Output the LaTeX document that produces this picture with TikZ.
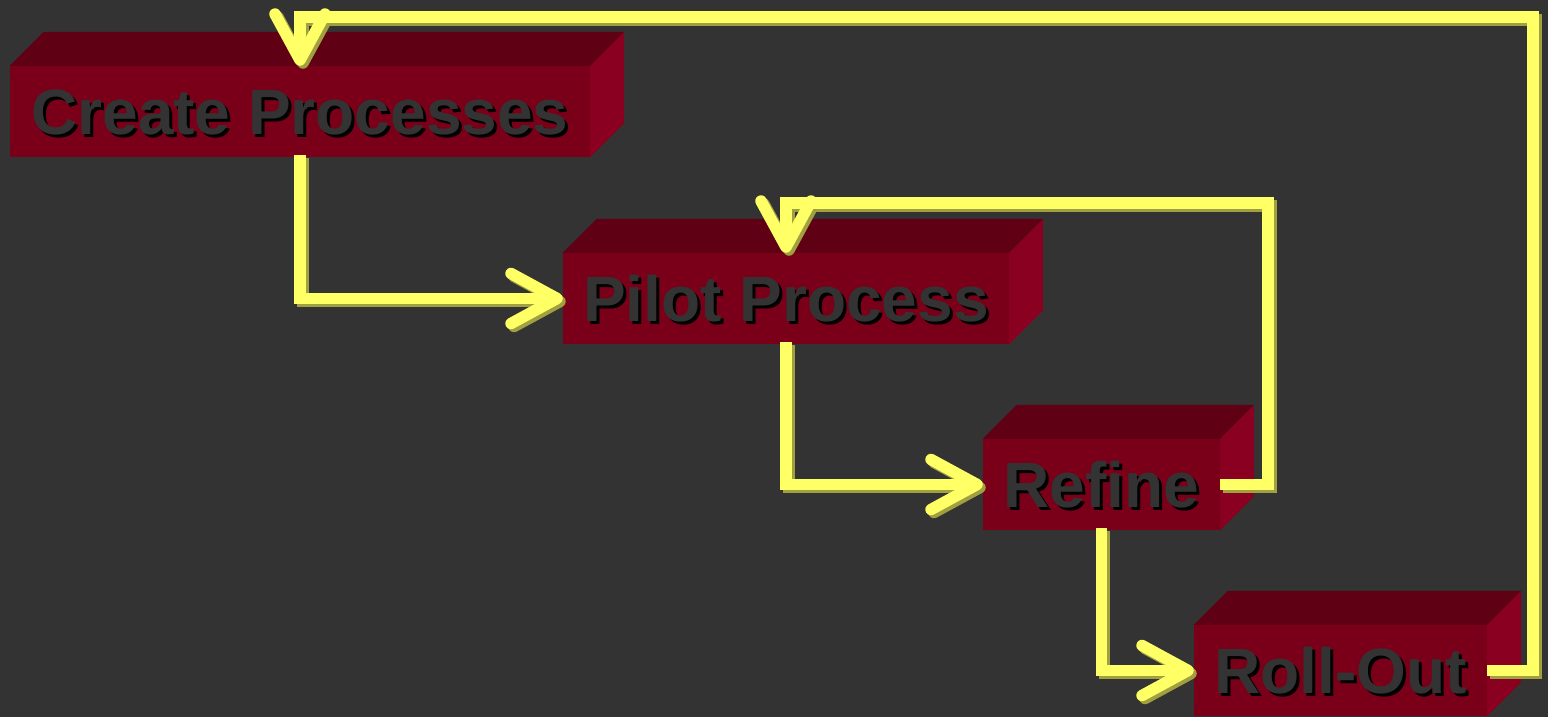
\documentclass[tikz,border=0pt]{standalone}
\usepackage{fontspec}
\setmainfont{Liberation Sans}
\usetikzlibrary{arrows.meta}

\definecolor{bg}{HTML}{333333}
\definecolor{frontred}{HTML}{7A0019}
\definecolor{topred}{HTML}{600014}
\definecolor{sidered}{HTML}{8A0020}
\definecolor{ylw}{HTML}{FFFF66}
\definecolor{ylwshade}{HTML}{A0A040}

% label with a dropped black shadow behind it
\newcommand\castlabel[1]{\rlap{\kern3pt\raisebox{-3pt}{\color{black}#1}}#1}

% top and side faces of a block, drawn behind its front face
\newcommand\blockfaces[1]{%
  \fill[topred] (#1.north west) -- ++(34,-34) -- ([shift={(34,-34)}]#1.north east) -- (#1.north east) -- cycle;
  \fill[sidered] (#1.north east) -- ++(34,-34) -- ([shift={(34,-34)}]#1.south east) -- (#1.south east) -- cycle;
}

\tikzset{
  stepbox/.style={fill=frontred, inner sep=0pt, minimum height=91pt, text=bg,
    font=\bfseries\fontsize{64}{64}\selectfont, text height=46pt, text depth=0pt},
  flow/.style={line width=11.5pt, -{Straight Barb[round,length=46pt,width=50pt]}},
  flowshade/.style={flow, draw=ylwshade, transform canvas={shift={(3,3)}}},
  flowmain/.style={flow, draw=ylw},
}

\begin{document}
\begin{tikzpicture}[x=1pt,y=-1pt]
  \fill[bg] (0,0) rectangle (1548,717);
  \useasboundingbox (0,0) rectangle (1548,717);

  \node[stepbox, minimum width=580pt] (cp) at (300,111.5) {\castlabel{Create Processes}};
  \node[stepbox, minimum width=446pt] (pp) at (786,298.5) {\castlabel{Pilot Process}};
  \node[stepbox, minimum width=237pt] (rf) at (1101.5,484.5) {\castlabel{Refine}};
  \node[stepbox, minimum width=293pt] (ro) at (1340.5,670.5) {\castlabel{Roll-Out}};

  \blockfaces{cp}
  \blockfaces{pp}
  \blockfaces{rf}
  \blockfaces{ro}

  \coordinate (loopA) at (1268,203);
  \coordinate (loopB) at (1533,17);

  \foreach \s in {flowshade, flowmain} {
    \draw[\s] ([yshift=2pt]cp.south) |- (pp.west);
    \draw[\s] ([yshift=2pt]pp.south) |- (rf.west);
    \draw[\s] ([yshift=2pt]rf.south) |- (ro.west);
    \draw[\s] (rf.east) -| (loopA) -| (pp.north);
    \draw[\s] (ro.east) -| (loopB) -| (cp.north);
  }
\end{tikzpicture}
\end{document}
